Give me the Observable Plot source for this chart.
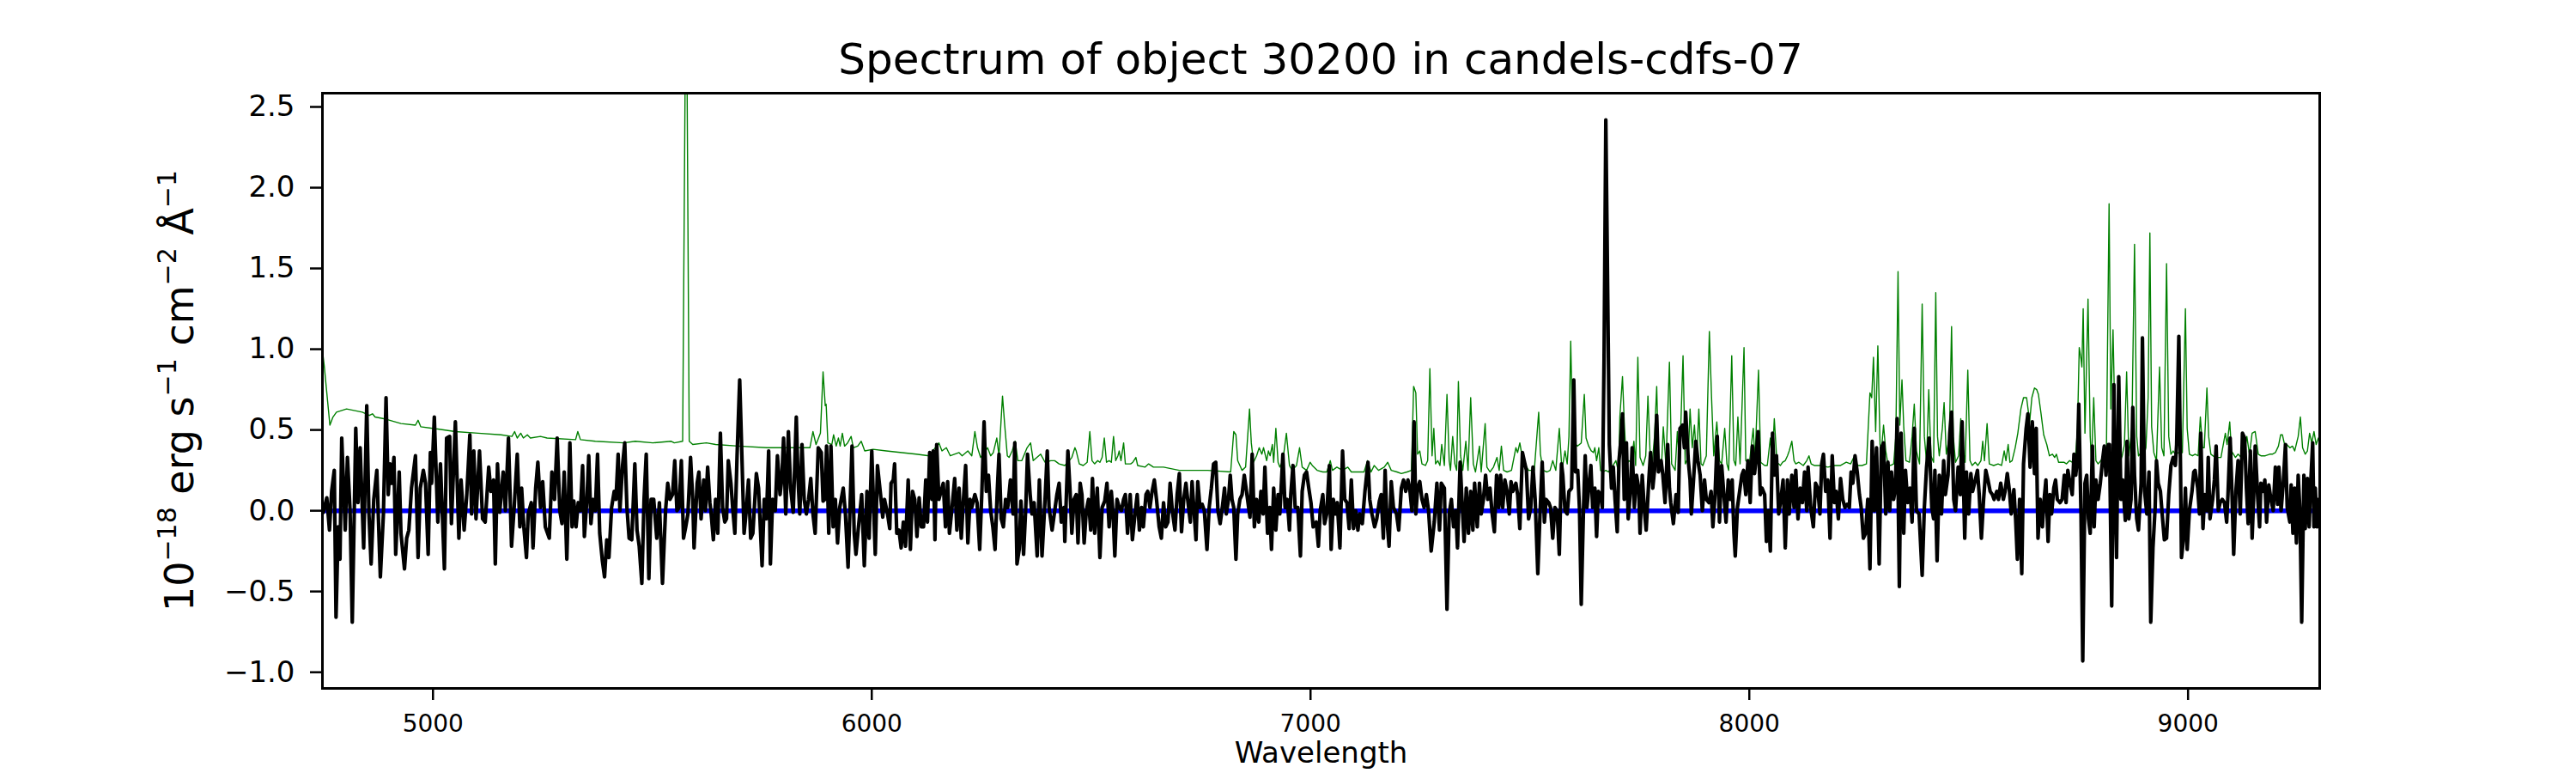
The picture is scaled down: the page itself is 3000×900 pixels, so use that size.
<!DOCTYPE html>
<html>
<head>
<meta charset="utf-8">
<script src="https://cdn.jsdelivr.net/npm/d3@7"></script>
<script src="https://cdn.jsdelivr.net/npm/@observablehq/plot@0.6"></script>
<style>
  html, body { margin: 0; padding: 0; background: #fff; }
  #title { position: relative; width: 3000px; height: 100px; font-family: "DejaVu Sans", sans-serif; }
  #title span { position: absolute; left: 538px; width: 2000px; top: 44px; font-size: 50px; line-height: 50px; text-align: center; color: #000; white-space: nowrap; }
</style>
</head>
<body>
<div id="title"><span>Spectrum of object 30200 in candels-cdfs-07</span></div>
<div id="chart"></div>
<script>
// ---- data (wavelength, flux) ----
const titleText = "Spectrum of object 30200 in candels-cdfs-07";
const xLabel = "Wavelength";
// y label pieces: [text, isSuperscript]
const yLabelParts = [["10", false], ["\u221218", true], [" erg s", false], ["\u22121", true], [" cm", false], ["\u22122", true], [" \u00C5", false], ["\u22121", true]];
const yLabel = yLabelParts.map(p => p[0]).join("");
const xTicks = [5000, 6000, 7000, 8000, 9000];
const yTicks = [-1.0, -0.5, 0.0, 0.5, 1.0, 1.5, 2.0, 2.5];
const xDomain = [4748, 9300];
const yDomain = [-1.10, 2.585];

// zero / model line
const zeroWave = [4748, 9300];
const zeroFlux = [0, 0];

// observed spectrum (black)
const spectrum = [
[4750,-0.01],[4758,0.08],[4764,-0.12],[4769,0.12],[4775,0.25],[4779,-0.66],[4784,-0.10],[4788,-0.30],[4792,0.45],[4800,-0.12],
[4805,0.33],[4811,0.00],[4816,-0.69],[4824,0.51],[4829,0.05],[4834,0.39],[4842,-0.23],[4849,0.65],[4854,-0.02],[4859,-0.33],
[4865,0.07],[4872,0.25],[4880,-0.41],[4887,-0.02],[4893,0.70],[4898,0.10],[4902,0.29],[4906,0.17],[4911,0.33],[4915,-0.27],
[4923,0.24],[4927,-0.14],[4935,-0.36],[4940,-0.17],[4945,-0.12],[4951,0.14],[4960,0.34],[4966,-0.29],[4971,0.14],[4978,0.25],
[4983,0.17],[4989,-0.27],[4994,0.36],[4997,0.17],[5003,0.58],[5011,-0.07],[5017,0.29],[5026,-0.36],[5031,0.45],[5038,0.46],
[5042,-0.08],[5051,0.55],[5059,-0.17],[5064,0.19],[5071,-0.12],[5077,0.10],[5084,0.47],[5088,-0.02],[5093,0.37],[5098,-0.05],
[5106,0.37],[5113,-0.05],[5119,-0.07],[5127,0.27],[5132,0.12],[5138,0.19],[5142,-0.33],[5147,0.29],[5152,-0.01],[5160,0.24],
[5165,0.00],[5172,0.45],[5179,-0.22],[5185,0.02],[5192,0.35],[5198,-0.10],[5202,0.14],[5207,-0.10],[5213,-0.29],[5217,-0.02],
[5224,0.05],[5228,-0.23],[5234,0.14],[5239,0.30],[5245,0.02],[5250,0.18],[5256,-0.10],[5265,-0.17],[5271,0.24],[5277,0.07],
[5283,0.45],[5289,0.00],[5294,-0.08],[5299,0.24],[5305,-0.30],
[5312,0.42],[5317,-0.10],[5321,0.06],[5326,-0.10],[5331,0.05],[5336,0.00],[5341,0.28],[5345,-0.16],[5351,0.08],[5355,0.34],
[5360,-0.08],[5365,0.07],[5370,0.00],[5375,0.35],[5380,-0.14],[5386,-0.31],[5391,-0.41],[5396,-0.18],[5401,-0.29],[5407,0.02],
[5413,0.12],[5417,0.07],[5422,0.35],[5426,0.00],[5432,0.28],[5437,0.42],[5442,0.02],[5447,-0.17],[5453,-0.18],[5460,0.29],
[5465,-0.12],[5470,-0.22],[5476,-0.45],[5481,0.07],[5486,0.35],[5492,-0.42],[5497,0.07],[5503,0.07],[5510,-0.17],[5516,0.05],
[5523,-0.45],[5530,0.00],[5535,0.17],[5540,0.07],[5546,0.10],[5551,0.31],[5556,0.00],[5561,0.02],[5566,0.31],[5571,-0.17],
[5576,-0.10],[5581,-0.02],[5587,0.33],[5592,0.07],[5595,-0.23],[5602,0.17],[5606,0.24],[5611,-0.05],[5617,0.19],[5621,0.00],
[5626,0.27],[5631,0.05],[5634,-0.02],[5639,-0.18],[5644,0.07],[5649,-0.14],[5655,0.48],[5660,0.02],[5665,-0.07],[5669,-0.05],
[5673,0.31],[5679,0.17],[5683,0.02],[5688,-0.14],[5693,0.34],[5699,0.81],[5704,0.34],[5709,-0.14],[5714,0.00],[5719,0.19],
[5724,-0.17],[5729,-0.14],[5737,0.23],[5742,0.14],[5750,-0.34],[5755,0.07],[5760,-0.05],[5765,0.37],[5769,-0.33],[5774,0.07],
[5780,0.00],[5785,0.34],[5791,0.10],[5795,0.20],[5799,0.45],[5804,-0.02],[5810,0.49],[5815,0.14],[5821,-0.01],[5828,0.58],
[5832,0.19],[5836,-0.02],[5841,0.41],[5846,0.07],[5851,-0.02],[5856,0.07],[5861,0.20],[5866,-0.02],[5871,-0.14],
[5878,0.39],[5885,0.36],[5889,0.06],[5893,0.07],[5897,0.40],[5902,-0.14],[5907,0.40],[5912,-0.10],[5917,0.07],[5922,-0.20],
[5927,0.02],[5935,0.14],[5940,-0.02],[5946,-0.35],[5950,-0.02],[5955,0.40],[5960,-0.14],[5964,-0.27],[5969,-0.12],[5977,0.10],
[5983,-0.34],[5989,0.12],[5994,-0.17],[6000,0.37],[6008,-0.27],[6013,0.28],[6020,0.10],[6025,-0.04],[6029,0.07],[6036,-0.02],
[6041,-0.11],[6044,0.17],[6049,0.19],[6052,0.29],[6057,-0.14],[6062,-0.12],[6067,-0.23],[6072,-0.07],[6077,-0.22],[6083,0.19],
[6088,-0.24],[6093,0.12],[6098,0.07],[6103,-0.16],[6108,0.08],[6113,-0.10],[6118,-0.10],[6123,0.19],[6127,-0.07],[6132,0.36],
[6137,0.07],[6140,0.37],[6144,-0.18],[6148,0.41],[6153,0.07],[6158,0.12],[6163,0.17],[6168,-0.10],[6173,0.18],[6177,-0.14],
[6183,0.02],[6189,0.20],[6194,-0.12],[6199,0.14],[6204,-0.17],[6209,0.07],[6214,0.28],[6219,-0.20],[6224,0.07],[6228,0.02],
[6235,0.10],[6240,0.05],[6246,-0.24],[6251,0.12],[6256,0.55],[6261,0.12],[6266,0.22],[6271,0.00],[6276,-0.10],[6281,-0.24],
[6286,0.12],[6290,0.35],[6295,-0.05],[6300,-0.10],[6305,0.07],[6310,0.02],[6316,0.19],[6322,-0.02],[6326,0.42],[6331,-0.33],
[6336,-0.24],[6340,0.06],[6346,-0.27],[6351,0.02],[6355,0.35],[6361,0.10],[6365,-0.02],[6370,0.05],[6377,-0.28],[6382,0.19],
[6388,-0.28],[6395,0.07],[6400,0.37],[6404,0.02],[6411,-0.12],[6416,-0.02],[6422,0.10],[6427,0.17],[6432,-0.07],[6438,0.02],
[6440,-0.19],[6447,0.37],[6452,0.12],[6456,-0.14],[6461,0.07],[6466,0.10],[6470,-0.20],[6475,0.17],[6479,0.10],[6484,-0.20],
[6489,0.00],[6494,0.07],[6499,-0.12],[6503,0.20],[6508,-0.14],[6514,0.14],[6520,-0.29],[6525,0.02],[6531,0.06],[6536,0.17],
[6541,-0.10],[6546,0.12],[6550,-0.02],[6554,-0.28],[6559,0.07],[6564,0.02],[6569,0.00],[6574,0.07],[6578,0.10],[6583,-0.14],
[6589,0.10],[6594,-0.18],[6600,-0.02],[6605,0.10],[6610,-0.12],[6615,0.02],[6619,-0.10],[6625,0.10],[6629,0.12],[6634,0.02],
[6639,0.12],[6644,0.19],[6649,0.07],[6655,-0.10],[6660,-0.17],[6665,0.05],[6670,-0.10],[6675,-0.07],[6680,0.17],[6685,0.00],
[6691,-0.12],[6696,0.10],[6701,0.23],[6706,-0.13],[6711,0.07],[6716,0.17],[6720,0.07],[6726,-0.07],[6730,0.18],[6735,-0.02],
[6739,-0.18],[6743,0.18],[6748,0.02],[6753,0.04],[6758,0.00],[6764,-0.24],[6769,0.02],[6774,0.14],[6779,0.29],[6784,0.30],
[6789,0.00],[6794,-0.08],[6799,0.02],[6804,0.14],[6808,-0.02],[6813,0.07],[6817,0.22],[6821,0.07],[6825,0.02],[6830,-0.30],
[6834,-0.02],[6839,0.07],[6844,0.10],[6849,0.22],[6854,0.12],[6859,0.02],[6862,-0.04],[6867,0.35],[6872,-0.10],[6877,0.07],
[6882,-0.07],[6887,0.12],[6892,-0.02],[6896,0.27],[6902,-0.14],[6907,0.02],[6911,-0.24],[6916,0.14],[6921,-0.12],[6926,0.10],
[6930,-0.02],[6937,0.35],[6942,0.02],[6947,0.07],[6952,-0.12],[6955,0.10],[6960,0.28],[6965,0.02],[6971,0.02],[6977,-0.28],
[6981,0.12],[6986,0.22],[6991,0.24],[6996,0.14],[7001,0.05],[7006,-0.10],
[7013,-0.07],[7018,-0.22],[7022,0.00],[7028,0.10],[7032,-0.08],[7037,-0.02],[7043,0.28],[7047,-0.24],[7052,0.07],[7057,-0.02],
[7061,0.05],[7067,-0.23],[7073,0.37],[7078,0.07],[7083,0.05],[7088,-0.11],[7093,0.19],[7098,-0.11],[7103,0.00],[7108,-0.12],
[7112,-0.02],[7118,-0.08],[7124,0.12],[7131,0.30],[7135,0.07],[7140,-0.02],[7146,-0.10],[7151,-0.05],[7157,0.06],[7161,0.10],
[7166,-0.17],[7170,0.25],[7174,-0.05],[7179,-0.22],[7184,0.18],[7189,0.02],[7196,-0.02],[7201,-0.12],[7207,0.14],[7212,0.19],
[7217,0.12],[7222,0.19],[7226,0.14],[7231,0.00],[7236,0.55],[7240,-0.02],[7244,0.14],[7249,0.18],[7254,0.07],[7259,0.02],
[7264,0.10],[7269,0.00],[7275,-0.25],[7282,-0.07],[7288,0.17],[7294,-0.12],[7298,0.17],[7305,0.14],[7311,-0.61],[7316,-0.02],
[7321,0.07],[7326,-0.10],[7331,0.00],[7335,-0.23],[7341,0.30],[7346,0.02],[7350,-0.19],[7355,0.14],[7360,-0.14],[7365,0.12],
[7370,-0.12],[7374,0.17],[7380,-0.10],[7385,0.17],[7389,-0.02],[7394,0.07],[7399,0.22],[7404,0.07],[7409,0.14],[7414,-0.02],
[7419,-0.13],[7424,0.22],[7429,0.02],[7433,0.22],[7438,0.02],[7443,0.19],[7448,0.12],[7453,-0.02],[7457,0.18],[7461,0.12],
[7468,0.17],[7472,0.10],[7477,-0.11],[7483,0.36],[7487,0.31],[7492,0.25],[7497,-0.05],[7502,0.02],[7507,0.27],[7512,0.07],
[7518,-0.39],[7523,-0.02],[7528,0.30],[7533,-0.07],[7537,0.07],[7543,0.05],[7547,0.02],[7552,-0.17],[7557,0.02],[7562,0.00],
[7567,-0.27],[7572,0.29],
[7575,0.22],[7580,0.00],[7585,-0.02],[7589,0.12],[7595,0.14],[7600,0.81],[7604,0.24],[7609,0.25],[7613,0.01],[7617,-0.58],
[7622,0.00],[7626,0.34],[7630,0.02],[7635,0.17],[7639,0.28],[7643,0.02],[7648,0.14],[7652,-0.16],[7656,0.12],[7661,0.10],
[7665,0.02],[7669,0.94],[7673,2.42],[7677,1.42],[7681,0.41],[7686,0.14],[7690,0.27],[7694,0.07],[7699,-0.13],[7703,0.31],
[7707,0.43],[7711,0.60],[7715,0.07],[7720,0.42],[7724,-0.05],[7729,0.12],[7733,0.39],[7738,0.02],[7743,0.22],[7748,0.14],
[7751,-0.14],[7756,0.22],[7761,0.00],[7765,-0.12],[7771,0.19],[7775,0.36],[7780,0.14],[7784,0.25],[7789,0.59],[7793,0.24],
[7799,0.31],[7803,0.22],[7808,0.05],[7814,0.41],[7818,0.14],[7821,0.05],[7827,-0.08],[7833,0.10],[7838,-0.01],[7842,0.51],
[7848,0.53],[7852,0.39],[7855,0.61],[7861,0.31],[7865,0.19],[7868,-0.02],[7874,0.24],[7878,0.43],[7883,0.31],[7888,0.22],
[7893,0.00],[7898,0.19],[7902,0.07],[7908,0.05],[7913,0.12],[7917,-0.10],[7922,0.10],[7927,0.46],[7932,-0.07],[7937,0.28],
[7941,0.14],[7947,-0.07],[7952,0.19],[7957,0.07],[7961,0.19],[7965,-0.14],[7968,-0.28],[7973,0.02],[7978,0.12],[7983,0.22],
[7987,0.25],[7992,0.10],[7997,0.31],[8002,0.05],[8007,0.40],[8012,0.23],[8016,0.34],[8020,0.49],[8025,0.10],[8029,0.14],
[8035,0.10],[8039,-0.19],[8043,0.00],[8048,-0.25],[8053,0.48],[8057,0.22],[8062,0.34],[8067,-0.02],[8072,0.07],[8077,0.19],
[8082,-0.23],[8087,0.19],[8091,-0.02],[8097,0.22],[8102,0.02],[8106,0.25],[8111,-0.05],[8116,0.14],[8121,0.05],[8126,0.24],
[8131,0.00],[8134,0.27],[8140,0.02],
[8146,-0.10],[8151,0.17],[8156,0.14],[8161,-0.02],[8165,0.29],[8169,0.35],[8174,0.12],[8179,0.19],[8184,-0.17],[8189,0.34],
[8194,0.05],[8198,0.12],[8203,-0.05],[8208,0.20],[8213,0.07],[8218,0.02],[8223,0.04],[8228,0.02],[8232,0.24],[8236,0.17],
[8241,0.34],[8246,0.24],[8251,0.10],[8255,0.02],[8260,-0.17],[8265,-0.14],[8270,0.07],[8275,-0.36],[8280,0.43],[8285,0.00],
[8290,0.39],[8296,-0.33],[8301,0.39],[8306,0.42],[8311,-0.02],[8316,0.30],[8320,0.00],[8324,0.24],[8329,0.07],[8333,0.14],
[8337,0.57],[8342,-0.47],[8346,0.48],[8352,-0.14],[8356,0.25],[8361,0.05],[8366,0.14],[8371,-0.07],[8376,0.51],[8381,0.00],
[8387,-0.02],[8394,-0.40],[8399,0.02],[8404,0.27],[8410,0.45],[8416,0.02],[8420,-0.05],[8423,0.25],[8428,-0.31],[8433,0.22],
[8438,-0.02],[8443,0.31],[8447,0.10],[8453,0.22],[8457,0.48],[8461,0.61],[8466,0.07],[8470,0.00],[8476,0.27],[8481,0.10],
[8485,0.55],[8491,-0.17],[8495,0.24],[8500,-0.02],[8505,0.23],[8509,0.12],[8515,0.19],[8520,0.25],[8524,0.10],[8529,-0.17],
[8534,0.07],[8539,0.25],[8544,0.19],[8549,0.12],[8554,0.10],[8558,0.07],[8564,0.12],[8568,0.07],[8573,0.17],[8579,0.07],
[8583,0.12],[8588,0.23],[8593,0.12],[8597,-0.02],[8603,0.13],[8607,-0.05],[8611,-0.30],[8616,0.07],[8621,-0.39],[8625,0.29],
[8631,0.51],[8635,0.60],[8640,0.27],[8645,0.55],[8650,0.23],[8654,0.51],[8658,-0.17],[8663,0.07],[8668,-0.10],[8672,0.07],
[8676,0.19],[8681,-0.19],[8685,0.10],[8689,-0.02],[8694,0.14],[8698,0.19],[8702,0.07],[8708,0.05],
[8713,0.07],[8718,0.22],[8722,0.05],[8726,0.25],[8731,0.17],[8736,0.10],[8740,0.35],[8744,0.22],[8748,0.33],[8751,0.66],
[8756,-0.02],[8760,-0.93],[8765,0.17],[8769,0.22],[8773,-0.05],[8777,-0.14],[8782,0.40],[8786,-0.10],[8790,0.19],[8795,0.07],
[8800,0.17],[8805,0.31],[8809,0.40],[8813,0.22],[8818,0.41],[8821,0.41],[8826,-0.59],[8831,0.78],[8834,0.10],[8837,-0.29],
[8842,0.83],[8847,0.07],[8851,0.19],[8857,-0.06],[8861,0.43],[8865,-0.05],[8870,0.07],[8874,0.64],[8878,0.22],[8883,-0.05],
[8887,-0.12],[8893,0.17],[8896,1.07],[8901,0.12],[8906,-0.02],[8911,0.24],[8915,-0.69],[8920,-0.23],[8925,0.02],[8928,0.31],
[8932,0.17],[8937,0.12],[8941,-0.02],[8946,-0.18],[8951,-0.17],[8956,0.10],[8961,0.28],[8966,0.33],[8971,0.28],[8974,0.41],
[8979,1.08],[8983,0.22],[8985,-0.29],[8989,-0.19],[8994,0.14],[8998,-0.24],[9003,0.00],[9009,0.12],[9013,0.24],[9016,0.25],
[9022,0.14],[9026,-0.02],[9029,0.48],[9034,-0.11],[9038,0.10],[9043,0.00],[9046,0.33],[9050,-0.05],[9056,0.07],[9060,0.19],
[9064,0.40],[9069,0.00],[9073,0.05],[9078,0.07],[9083,0.05],[9088,-0.07],[9091,0.10],[9096,0.45],[9100,0.12],[9104,-0.27],
[9109,0.12],[9114,0.31],[9119,-0.02],[9124,0.48],[9129,0.45],[9133,0.14],[9137,-0.08],[9142,0.37],[9146,-0.17],[9150,0.12],
[9153,0.40],[9159,0.07],[9163,-0.10],[9166,0.17],[9171,0.12],[9175,0.19],[9179,-0.07],[9184,0.16],[9189,0.07],[9194,0.00],
[9199,0.27],[9204,0.04],[9207,0.27],[9212,0.00],[9217,0.17],[9222,0.41],[9226,0.02],[9232,-0.07],[9235,0.16],[9239,-0.14],
[9243,0.14],[9247,-0.20],[9251,0.22],[9255,0.00],[9259,-0.69],[9264,0.22],[9267,-0.11],[9272,0.20],[9276,-0.10],[9279,0.14],
[9284,0.42],[9287,-0.10],[9290,0.14],[9294,-0.10],[9298,0.07]
];

// noise / sky spectrum (green)
const noise = [
[4749,0.97],[4752,0.90],[4765,0.53],[4772,0.58],[4780,0.61],[4803,0.63],[4839,0.61],[4855,0.59],[4862,0.60],[4868,0.58],
[4888,0.57],[4927,0.54],[4960,0.53],[4966,0.56],[4972,0.52],[4999,0.51],[5051,0.49],[5103,0.48],[5155,0.47],[5180,0.46],
[5186,0.49],[5192,0.45],[5200,0.48],[5206,0.45],[5215,0.47],[5222,0.45],[5245,0.46],[5260,0.45],[5325,0.44],
[5330,0.49],[5336,0.44],[5370,0.43],[5435,0.42],[5461,0.43],[5501,0.42],[5543,0.43],[5550,0.42],[5569,0.43],[5577,3.6],
[5584,0.43],[5592,0.41],[5623,0.42],[5644,0.41],[5696,0.40],[5761,0.39],[5827,0.39],[5859,0.39],[5866,0.49],[5873,0.41],
[5883,0.48],[5889,0.86],[5894,0.65],[5896,0.66],[5900,0.42],
[5909,0.41],[5913,0.47],[5919,0.40],[5924,0.45],[5928,0.40],[5933,0.48],[5938,0.40],[5945,0.42],[5953,0.46],[5958,0.39],
[5968,0.40],[5976,0.43],[5984,0.37],[6003,0.38],[6033,0.37],[6069,0.36],[6101,0.35],[6131,0.34],[6153,0.42],[6160,0.37],
[6170,0.39],[6179,0.34],[6199,0.36],[6206,0.34],[6219,0.37],[6228,0.34],[6235,0.49],[6241,0.39],[6248,0.33],[6264,0.39],
[6271,0.34],[6277,0.36],[6285,0.45],[6290,0.34],[6298,0.71],[6303,0.53],[6309,0.34],[6313,0.33],[6320,0.37],[6327,0.43],
[6333,0.31],[6342,0.31],[6354,0.39],[6362,0.42],[6368,0.31],[6385,0.35],[6395,0.30],[6408,0.31],[6417,0.31],[6427,0.29],
[6440,0.28],
[6450,0.31],[6456,0.33],[6463,0.39],[6466,0.37],[6473,0.29],[6482,0.28],[6491,0.30],[6497,0.49],[6502,0.31],[6508,0.29],
[6515,0.31],[6520,0.30],[6525,0.33],[6530,0.45],[6535,0.30],[6541,0.31],[6546,0.30],[6551,0.46],[6556,0.31],[6561,0.34],
[6564,0.37],[6568,0.31],[6574,0.42],[6578,0.29],[6590,0.29],[6595,0.30],[6602,0.33],[6606,0.28],[6623,0.27],[6631,0.29],
[6642,0.27],[6665,0.27],[6701,0.25],[6733,0.25],[6766,0.25],[6818,0.24],[6825,0.49],[6830,0.47],[6834,0.31],[6839,0.28],
[6844,0.25],[6852,0.27],[6861,0.63],[6865,0.42],[6870,0.30],[6877,0.34],[6883,0.39],[6889,0.35],[6893,0.39],[6900,0.31],
[6904,0.37],[6908,0.34],[6913,0.41],[6916,0.30],[6921,0.51],[6926,0.30],[6930,0.27],[6937,0.31],[6945,0.48],[6952,0.28],
[6958,0.25],[6968,0.28],[6975,0.39],[6981,0.27],[6991,0.25],[6999,0.30],[7004,0.28],
[7015,0.25],[7028,0.24],[7037,0.24],[7045,0.31],[7050,0.25],[7060,0.27],[7073,0.25],[7085,0.27],[7093,0.24],[7112,0.24],
[7122,0.24],[7130,0.31],[7138,0.24],[7145,0.28],[7155,0.25],[7168,0.27],[7176,0.30],[7184,0.25],[7197,0.24],[7207,0.23],
[7220,0.24],[7230,0.25],[7235,0.77],[7240,0.73],[7244,0.35],[7249,0.37],[7254,0.29],[7262,0.28],[7267,0.31],[7272,0.88],
[7277,0.34],[7281,0.51],[7285,0.29],[7290,0.31],[7295,0.28],[7299,0.41],[7305,0.28],[7311,0.72],[7316,0.31],[7319,0.25],
[7324,0.46],[7329,0.29],[7333,0.25],[7337,0.80],[7342,0.34],[7347,0.25],[7354,0.43],[7359,0.25],[7365,0.70],[7371,0.29],
[7376,0.24],[7385,0.40],[7389,0.24],[7398,0.54],[7402,0.27],[7409,0.24],[7417,0.27],[7425,0.33],[7430,0.25],[7435,0.40],
[7440,0.25],[7448,0.24],[7458,0.25],[7468,0.39],[7472,0.36],[7477,0.42],[7484,0.31],[7497,0.25],[7510,0.25],[7520,0.61],
[7524,0.35],[7530,0.25],[7539,0.24],[7546,0.25],[7552,0.31],[7559,0.25],[7567,0.51],[7573,0.25],
[7580,0.37],[7585,0.29],[7589,0.46],[7593,1.05],[7598,0.41],[7602,0.42],[7608,0.40],[7613,0.41],[7617,0.42],[7624,0.72],
[7628,0.45],[7634,0.40],[7640,0.37],[7645,0.36],[7648,0.39],[7652,0.31],[7657,0.39],[7661,0.25],[7666,0.24],[7673,0.25],
[7679,0.24],[7687,0.27],[7696,0.31],[7702,0.24],[7705,0.58],[7711,0.83],[7715,0.55],[7720,0.28],[7725,0.31],[7731,0.30],
[7737,0.43],[7741,0.28],[7746,0.95],[7751,0.33],[7758,0.28],[7764,0.34],[7769,0.71],[7774,0.35],[7778,0.27],[7784,0.46],
[7789,0.77],[7793,0.31],[7800,0.28],[7804,0.52],[7810,0.28],[7818,0.92],[7823,0.29],[7831,0.25],[7836,0.49],[7841,0.28],
[7849,0.96],[7854,0.29],[7861,0.33],[7865,0.63],[7870,0.39],[7875,0.53],[7880,0.31],[7885,0.63],[7890,0.29],[7894,0.28],
[7902,0.34],[7909,1.11],[7914,0.70],[7919,0.34],[7926,0.55],[7932,0.31],[7937,0.29],[7944,0.51],[7949,0.29],[7953,0.25],
[7960,0.96],[7965,0.31],[7969,0.28],[7974,0.58],[7979,0.29],[7988,1.01],[7992,0.31],[8000,0.29],[8009,0.51],[8013,0.31],
[8021,0.87],[8026,0.30],[8035,0.28],[8041,0.28],[8048,0.45],[8052,0.30],[8057,0.57],[8063,0.30],[8071,0.28],[8076,0.30],
[8082,0.31],[8087,0.34],[8091,0.37],[8097,0.43],[8102,0.31],[8106,0.29],[8113,0.30],[8123,0.28],[8131,0.31],[8136,0.34],
[8141,0.29],
[8148,0.28],[8163,0.28],[8179,0.27],[8195,0.28],[8208,0.28],[8221,0.30],[8231,0.29],[8238,0.33],[8247,0.28],[8257,0.28],
[8267,0.29],[8271,0.51],[8275,0.73],[8279,0.70],[8283,0.95],[8288,0.49],[8293,1.02],[8298,0.41],[8301,0.37],[8306,0.53],
[8311,0.37],[8316,0.29],[8322,0.28],[8329,0.29],[8334,0.46],[8339,1.48],[8343,0.53],[8348,0.81],[8352,0.52],[8357,0.31],
[8365,0.30],[8371,0.46],[8376,0.66],[8381,0.37],[8388,0.29],[8394,1.28],[8399,0.46],[8404,0.30],[8409,0.75],[8414,0.34],
[8420,0.30],[8425,1.35],[8429,0.46],[8433,0.34],[8440,0.51],[8444,0.67],[8449,0.35],[8456,0.46],[8461,1.14],[8465,0.46],
[8470,0.30],[8477,0.34],[8482,0.57],[8487,0.39],[8492,0.30],[8498,0.87],[8503,0.31],[8508,0.28],[8515,0.30],[8521,0.28],
[8528,0.31],[8532,0.43],[8536,0.31],[8542,0.54],[8547,0.29],[8557,0.28],[8567,0.29],[8575,0.28],[8581,0.37],[8585,0.31],
[8590,0.41],[8594,0.30],[8599,0.31],[8606,0.39],[8612,0.48],[8619,0.63],[8625,0.70],[8632,0.70],[8639,0.55],[8644,0.70],
[8650,0.76],[8655,0.75],[8659,0.72],[8665,0.60],[8671,0.47],[8678,0.41],[8684,0.34],[8691,0.35],[8696,0.33],[8700,0.35],
[8705,0.30],
[8717,0.30],[8723,0.29],[8730,0.31],[8736,0.30],[8743,0.31],[8748,0.51],[8752,1.01],[8756,0.94],[8758,0.89],[8761,1.25],
[8765,0.48],[8772,1.31],[8777,0.46],[8780,0.30],[8785,0.70],[8790,0.31],[8795,0.29],[8801,0.31],[8808,0.33],[8814,0.39],
[8820,1.90],[8824,0.63],[8829,1.12],[8834,0.46],[8839,0.35],[8846,0.31],[8850,0.34],[8855,0.41],[8860,0.86],[8865,0.34],
[8872,0.51],[8878,1.65],[8883,0.46],[8887,0.34],[8893,0.36],[8899,0.34],[8904,0.39],[8909,0.70],[8913,1.72],[8917,0.52],
[8922,0.36],[8928,0.31],[8935,0.89],[8940,0.39],[8945,0.34],[8951,1.53],[8956,0.46],[8961,0.35],[8966,0.37],[8971,0.35],
[8979,0.36],[8987,0.36],[8994,1.25],[8998,0.51],[9003,0.35],[9010,0.34],[9016,0.35],[9023,0.34],[9028,0.58],[9033,0.39],
[9037,0.39],[9043,0.76],[9047,0.46],[9052,0.35],[9062,0.33],[9075,0.33],[9085,0.48],[9089,0.41],[9095,0.55],[9099,0.37],
[9108,0.33],[9114,0.35],[9121,0.33],[9127,0.34],[9134,0.46],[9140,0.35],[9146,0.48],[9153,0.49],[9160,0.35],[9166,0.34],
[9176,0.34],[9186,0.35],[9192,0.35],[9199,0.36],[9206,0.40],[9211,0.47],[9215,0.47],[9220,0.41],[9225,0.41],[9232,0.39],
[9238,0.40],[9243,0.37],[9251,0.46],[9256,0.58],[9261,0.39],[9267,0.35],[9272,0.37],[9277,0.48],[9282,0.42],[9287,0.49],
[9292,0.41],[9297,0.45]
];

// ---- chart ----
const zeroLine = zeroWave.map((w, i) => [w, zeroFlux[i]]);
const fmtY = d => d.toFixed(1).replace("-", "\u2212");

const chart = Plot.plot({
  width: 3000,
  height: 800,
  marginTop: 8,
  marginBottom: 99,
  marginLeft: 375,
  marginRight: 299,
  style: { fontFamily: "DejaVu Sans, sans-serif", background: "#fff", color: "#000" },
  x: { domain: xDomain },
  y: { domain: yDomain },
  marks: [
    Plot.line(noise, { x: d => d[0], y: d => d[1], stroke: "#008000", strokeWidth: 1.4, clip: true, curve: "linear" }),
    Plot.line(zeroLine, { x: d => d[0], y: d => d[1], stroke: "#0000ff", strokeWidth: 5.5, clip: true }),
    Plot.line(spectrum, { x: d => d[0], y: d => d[1], stroke: "#000", strokeWidth: 4.2, clip: true, curve: "linear", strokeLinejoin: "round" }),
    Plot.frame({ stroke: "#000", strokeWidth: 3 }),
    Plot.axisX({ ticks: xTicks, tickFormat: d => String(d), tickSize: 14, tickPadding: 17, strokeWidth: 2.5, fontSize: 28, label: null }),
    Plot.axisY({ ticks: yTicks, tickFormat: fmtY, tickSize: 14, tickPadding: 18, strokeWidth: 2.5, fontSize: 34, label: null }),
    Plot.text([xLabel], { frameAnchor: "bottom", lineAnchor: "bottom", dy: 86, fontSize: 34, fill: "#000" }),
    Plot.text([yLabel], { frameAnchor: "left", rotate: -90, lineAnchor: "middle", textAnchor: "middle", dx: -165, fontSize: 46, fill: "#000" })
  ]
});
document.getElementById("chart").appendChild(chart);

// render the y label with raised, smaller exponents (mathtext style)
const supSize = 30, supShift = 20;
d3.select(chart).selectAll("text").filter(function () { return this.textContent === yLabel; }).each(function () {
  const t = d3.select(this);
  t.text(null);
  let raised = false;
  yLabelParts.forEach(([s, sup]) => {
    const span = t.append("tspan").text(s);
    if (sup && !raised) { span.attr("dy", -supShift).attr("font-size", supSize); raised = true; }
    else if (sup) { span.attr("font-size", supSize); }
    else if (raised) { span.attr("dy", supShift); raised = false; }
  });
});
</script>
</body>
</html>
